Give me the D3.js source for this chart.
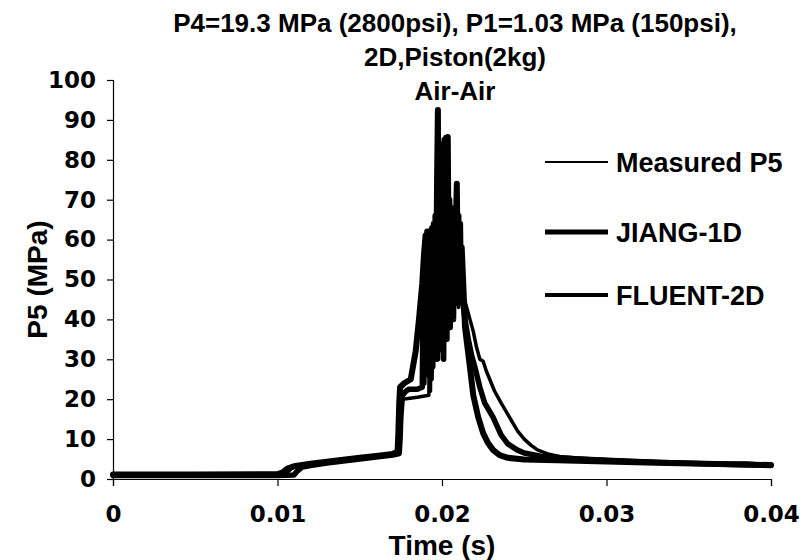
<!DOCTYPE html>
<html>
<head>
<meta charset="utf-8">
<script src="https://d3js.org/d3.v7.min.js"></script>
<style>
  body{margin:0;background:#fff;}
  svg text{font-family:"Liberation Sans",Arial,sans-serif;font-weight:bold;fill:#000;}
</style>
</head>
<body>
<svg width="804" height="560"></svg>
<script>
// chart values: [time (s), P5 (MPa)]
var titleLines=["P4=19.3 MPa (2800psi), P1=1.03 MPa (150psi),","2D,Piston(2kg)","Air-Air"];
var xTicks=[0,0.01,0.02,0.03,0.04];
var yTicks=[0,10,20,30,40,50,60,70,80,90,100];
var seriesNames=["Measured P5","JIANG-1D","FLUENT-2D"];

var measuredP5=[[0,0.8],[0.002,0.9],[0.004,0.8],[0.006,0.9],[0.008,0.9],[0.0100,1.0],[0.0105,1.3],
  [0.0108,2.4],[0.011,3.0],[0.012,3.6],[0.013,4.2],[0.014,4.7],[0.015,5.2],[0.016,5.7],[0.017,6.2],
  [0.0174,6.6],[0.0175,12],[0.01755,17],[0.0176,20],[0.0185,20.5],[0.0192,21],
  [0.01925,45],[0.0193,22],[0.01935,50],[0.0194,25],[0.01945,55],[0.0195,28],[0.01955,58],
  [0.0196,30],[0.01965,60],[0.0197,35],[0.01975,62],[0.0198,30],[0.01985,58],[0.0199,38],
  [0.01995,62],[0.0200,32],[0.02005,60],[0.0201,35],[0.02015,64],[0.0202,40],[0.02025,62],
  [0.0203,36],[0.02035,60],[0.0204,42],[0.02045,58],[0.0205,38],[0.02055,56],[0.0206,40],
  [0.02065,55],[0.0207,42],[0.02075,54],[0.0208,44],[0.02085,52],[0.0209,45],[0.02095,50],
  [0.0210,43],[0.0211,48],[0.0212,44],[0.0213,46],[0.0215,43],[0.0217,40],
  [0.0219,37],[0.0221,33],[0.0223,30],[0.0225,29.5],[0.0227,27],[0.0229,25],[0.0232,22],
  [0.0236,19],[0.0241,15.5],[0.0246,12],[0.025,10],[0.0254,8.5],[0.0258,7.3],[0.0265,6.2],
  [0.0272,5.6],[0.029,5.1],[0.031,4.7],[0.034,4.2],[0.037,3.9],[0.0385,4.0],[0.04,3.6]];

var jiang1D=[[0,1.1],[0.005,1.1],[0.0100,1.2],[0.0103,1.6],[0.0106,2.6],[0.011,3.2],[0.012,3.8],
  [0.013,4.3],[0.014,4.8],[0.015,5.3],[0.016,5.8],[0.017,6.3],[0.0173,6.8],[0.01735,12],[0.0174,19],
  [0.01745,23],[0.0177,24],[0.0181,25],[0.0184,32],[0.0186,40],[0.0188,49],[0.0189,56],
  [0.0190,61],[0.01905,40],[0.0191,62],[0.01915,35],[0.0192,62],[0.01925,45],[0.0193,62],
  [0.01935,38],[0.0194,63],[0.01945,48],[0.0195,64],[0.01955,40],[0.0196,66],[0.01965,50],
  [0.0197,75],[0.01975,92.5],[0.0198,55],[0.01985,80],[0.0199,45],[0.01995,82],[0.0200,55],
  [0.02005,84],[0.0201,50],[0.02015,85],[0.0202,60],[0.02025,85.5],[0.0203,55],[0.02035,85.7],
  [0.0204,58],[0.02045,70],[0.0205,45],[0.02055,68],[0.0206,55],[0.02065,66],[0.0207,50],
  [0.02075,64],[0.0208,48],[0.02085,65],[0.0209,74],[0.02095,55],[0.0210,66],[0.02105,45],
  [0.0211,64],[0.02115,50],[0.0212,58],[0.0213,48],[0.0214,38],[0.0217,28],[0.0219,21],
  [0.0222,15.5],[0.0225,11.5],[0.0228,9],[0.0231,7.3],[0.0235,6],[0.024,5.3],[0.025,4.9],
  [0.027,4.7],[0.03,4.4],[0.033,4.1],[0.036,3.8],[0.04,3.5]];

var fluent2D=[[0,0.9],[0.005,0.9],[0.0100,0.9],[0.011,1.0],[0.0112,2.0],[0.0115,3.0],[0.012,3.4],
  [0.013,4.0],[0.014,4.5],[0.015,5.0],[0.016,5.5],[0.017,6.0],[0.0174,6.4],[0.01745,10],[0.0175,16],
  [0.0176,21],[0.0178,22],[0.018,22.5],[0.0185,22.5],[0.0188,23],[0.01885,45],[0.0189,24],
  [0.01895,48],[0.0190,26],[0.01905,50],[0.0191,27],[0.01915,52],[0.0192,28],[0.01925,55],
  [0.0193,25],[0.01935,58],[0.0194,28],[0.01945,58],[0.0195,30],[0.01955,60],[0.0196,35],
  [0.01965,62],[0.0197,30],[0.01975,60],[0.0198,42],[0.01985,62],[0.0199,40],[0.01995,60],
  [0.0200,35],[0.02005,64],[0.0201,30],[0.02015,62],[0.0202,38],[0.02025,64],[0.0203,35],
  [0.02035,66],[0.0204,40],[0.02045,62],[0.0205,38],[0.02055,60],[0.0206,42],[0.02065,58],
  [0.0207,40],[0.02075,56],[0.0208,44],[0.02085,55],[0.0209,52],[0.021,50],[0.0212,46],
  [0.0214,40],[0.0216,35],[0.0218,31],[0.022,28],[0.0223,23],[0.0226,19],[0.0231,15.5],
  [0.0236,11],[0.024,8.8],[0.02456,7.3],[0.025,6.5],[0.026,5.7],[0.028,5.1],[0.03,4.7],
  [0.033,4.2],[0.036,3.8],[0.04,3.4]];

var drawGraph=function(){
  var svg=d3.select('svg');
  var margin={top:80,left:113,right:33,bottom:81};
  var plotWidth=804-margin.left-margin.right;
  var plotHeight=560-margin.top-margin.bottom;

  var x=d3.scaleLinear().domain([0,0.04]).range([0,plotWidth]);
  var y=d3.scaleLinear().domain([0,100]).range([plotHeight,0]);

  var plot=svg.append('g').attr('id','plot')
    .attr('transform','translate('+margin.left+','+margin.top+')');

  var xAxis=d3.axisBottom(x).tickValues(xTicks).tickSize(7).tickPadding(20)
    .tickFormat(function(d){return d===0?'0':d3.format('.2f')(d);});
  var xGroup=plot.append('g').attr('transform','translate(0,'+plotHeight+')').call(xAxis);

  var yAxis=d3.axisLeft(y).tickValues(yTicks).tickSize(6).tickPadding(11);
  var yGroup=plot.append('g').call(yAxis);

  [xGroup,yGroup].forEach(function(g){
    g.selectAll('path,line').attr('stroke','#000').attr('stroke-width',1.2);
    g.selectAll('text').attr('font-family',null)
      .style('font-family','"DejaVu Sans",sans-serif')
      .style('font-size','23px');
  });

  var line=d3.line()
    .x(function(d){return x(d[0]);})
    .y(function(d){return y(d[1]);});

  var series=[measuredP5,jiang1D,fluent2D];
  var widths=[3.5,6,5.5];
  var legendWidths=[2,5,4];
  // thick ones first, measured on top
  [1,2,0].forEach(function(i){
    plot.append('path').datum(series[i])
      .attr('d',line)
      .attr('fill','none')
      .attr('stroke','#000')
      .attr('stroke-width',widths[i])
      .attr('stroke-linejoin','round')
      .attr('stroke-linecap','round');
  });

  // legend
  var legendY=[162,232,295];
  var legend=svg.append('g').attr('id','legend');
  seriesNames.forEach(function(name,i){
    legend.append('line')
      .attr('x1',545).attr('x2',608)
      .attr('y1',legendY[i]).attr('y2',legendY[i])
      .attr('stroke','#000').attr('stroke-width',legendWidths[i]);
    legend.append('text')
      .attr('x',616).attr('y',legendY[i]+10)
      .style('font-size','27px')
      .text(name);
  });

  // titles
  var titleY=[32,66,100];
  titleLines.forEach(function(t,i){
    svg.append('text')
      .attr('x',455).attr('y',titleY[i])
      .attr('text-anchor','middle')
      .style('font-size','26px')
      .text(t);
  });

  svg.append('text')
    .attr('text-anchor','middle')
    .attr('transform','translate(47,'+(margin.top+plotHeight/2)+')rotate(-90)')
    .style('font-size','28px')
    .text('P5 (MPa)');
  svg.append('text')
    .attr('text-anchor','middle')
    .attr('x',margin.left+plotWidth/2).attr('y',555)
    .style('font-size','28px')
    .text('Time (s)');
};

drawGraph();
</script>
</body>
</html>
